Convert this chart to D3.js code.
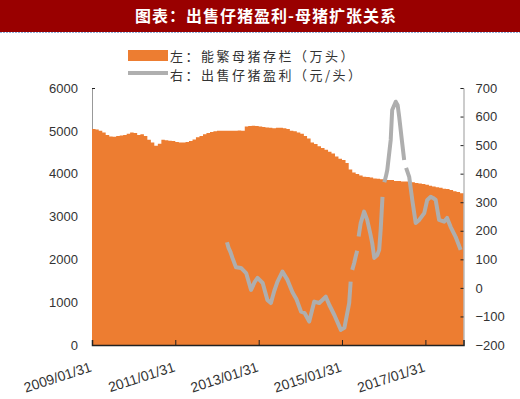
<!DOCTYPE html>
<html>
<head>
<meta charset="utf-8">
<script src="https://cdn.jsdelivr.net/npm/d3@7"></script>
<style>
  body { margin: 0; background: #fff; }
  svg { display: block; }
</style>
</head>
<body>
<svg id="chart" width="520" height="399"></svg>
<script>
// chart texts
var titleText = '图表：出售仔猪盈利-母猪扩张关系';
var legendLeft = '左：能繁母猪存栏（万头）';
var legendRight = '右：出售仔猪盈利（元/头）';

// monthly categories: first month and count
var firstMonth = '2009-01';
var monthCount = 107;

// left series: sow inventory (10k head), one value per month from 2009/01
var sowValues = [
  5040, 5030, 5000, 4960, 4900, 4870, 4860, 4880, 4890, 4900, 4930, 4960,
  4950, 4900, 4920, 4880, 4790, 4730, 4650, 4700, 4790, 4780, 4770, 4760,
  4740, 4730, 4730, 4740, 4760, 4800, 4850, 4880, 4920, 4950, 4970, 4990,
  5000, 5000, 5000, 5000, 5000, 5000, 5010, 5000, 5100, 5110, 5120, 5110,
  5100, 5090, 5080, 5070, 5060, 5070, 5070, 5060, 5040, 5000, 4990, 4960,
  4930, 4880, 4820, 4730, 4690, 4640, 4600, 4560, 4510, 4470, 4400, 4350,
  4320, 4250, 4100, 4030, 3990, 3960, 3930, 3920, 3910, 3890, 3880, 3870,
  3860, 3850, 3850, 3830, 3830, 3820, 3820, 3810, 3800, 3780, 3770, 3760,
  3740, 3720, 3700, 3680, 3670, 3650, 3640, 3620, 3590, 3570, 3540
];

// right series: piglet profit (yuan/head); null = missing week
var profitDates = [
  '2012-03-16', '2012-03-22', '2012-03-29', '2012-04-12', '2012-04-29', '2012-05-16',
  '2012-06-16', '2012-07-30', '2012-09-13', '2012-10-26', '2012-11-26', '2012-12-22',
  '2013-02-05', '2013-03-18', '2013-04-18', '2013-05-18', '2013-06-14', '2013-07-28',
  '2013-09-10', '2013-10-24', '2013-11-28', '2014-01-07', '2014-02-07', '2014-03-20',
  '2014-05-03', '2014-06-16', '2014-08-12', '2014-09-12', '2014-10-26', '2014-12-22',
  '2015-01-22', '2015-03-05', '2015-03-18', '2015-03-25', '2015-04-01', '2015-04-18',
  '2015-05-01', '2015-05-14', '2015-05-20', '2015-05-27', '2015-06-14', '2015-07-14',
  '2015-08-10', '2015-09-06', '2015-09-23', '2015-10-11', '2015-11-06', '2015-11-23',
  '2015-12-06', '2015-12-22', '2015-12-30', '2016-01-07', '2016-01-20', '2016-02-02',
  '2016-03-03', '2016-03-16', '2016-04-16', '2016-05-03', '2016-05-16', '2016-06-08',
  '2016-06-29', '2016-07-07', '2016-07-16', '2016-08-12', '2016-09-08', '2016-10-08',
  '2016-11-08', '2016-12-22', '2017-01-17', '2017-02-17', '2017-03-09', '2017-04-01',
  '2017-05-01', '2017-06-14', '2017-07-10', '2017-08-10', '2017-09-23', '2017-11-06'
];
var profitValues = [
  178, null, 160, 140, 125, 105,
  72, 70, 52, -7, 20, 35,
  17, -42, -53, -10, 21, 57,
  28, -15, -40, -83, -88, -118,
  -48, -53, -31, -60, -95, -147,
  -140, -53, 22, null, 63, 87,
  110, 130, null, 180, 227, 267,
  238, 190, 157, 105, 115, 133,
  203, 319, null, 370, 389, 413,
  518, 623, 652, 640, 600, 520,
  448, null, 420, 389, 308, 227,
  238, 262, 308, 319, 315, 308,
  238, 232, 245, 214, 179, 133
];

// axis ticks
var leftTicks = [0, 1000, 2000, 3000, 4000, 5000, 6000];
var rightTicks = [-200, -100, 0, 100, 200, 300, 400, 500, 600, 700];
var xTickDates = ['2009-01-01', '2011-01-01', '2013-01-01', '2015-01-01', '2017-01-01'];

var svg = d3.select('#chart');
var plot = { left: 92, right: 463.5, top: 88, bottom: 345 };

var parseDay = d3.timeParse('%Y-%m-%d');
var parseMonth = d3.timeParse('%Y-%m');
var start = parseMonth(firstMonth);
var months = d3.range(monthCount).map(function (i) { return d3.timeMonth.offset(start, i); });

var x = d3.scaleTime()
  .domain([start, d3.timeMonth.offset(start, monthCount)])
  .range([plot.left, plot.right]);
var yLeft = d3.scaleLinear().domain([0, 6000]).range([plot.bottom, plot.top]);
var yRight = d3.scaleLinear().domain([-200, 700]).range([plot.bottom, plot.top]);

// title bar
svg.append('rect').attr('x', 0).attr('y', 0).attr('width', 520).attr('height', 32).attr('fill', '#990000');
svg.append('line').attr('x1', 0).attr('x2', 520).attr('y1', 32.5).attr('y2', 32.5)
  .attr('stroke', '#8fb0dc').attr('stroke-width', 1).attr('stroke-dasharray', '2,1');
svg.append('text').attr('x', 266).attr('y', 22).attr('text-anchor', 'middle')
  .attr('fill', '#fff').attr('font-family', '"Noto Sans CJK SC"').attr('font-weight', 'bold')
  .attr('font-size', 16).attr('letter-spacing', 1).text(titleText);

// legend
var legend = svg.append('g').attr('font-family', '"Noto Sans CJK SC"').attr('font-size', 13)
  .attr('letter-spacing', 2.5).attr('fill', '#333');
legend.append('rect').attr('x', 128).attr('y', 50).attr('width', 40).attr('height', 11).attr('fill', '#ED7D31');
legend.append('text').attr('x', 170).attr('y', 60.5).text(legendLeft);
legend.append('line').attr('x1', 128).attr('x2', 168).attr('y1', 73).attr('y2', 73)
  .attr('stroke', '#AFAFAF').attr('stroke-width', 4);
legend.append('text').attr('x', 170).attr('y', 79.5).text(legendRight);

// axes (left first so the area covers its inner ticks)
var axisFont = 'Liberation Sans, Arial, sans-serif';
var leftAxis = svg.append('g').attr('transform', 'translate(' + plot.left + ',0)')
  .call(d3.axisLeft(yLeft).tickValues(leftTicks).tickSize(-3).tickPadding(14).tickFormat(d3.format('d')));

// sow bars, one step per month
var sowPoints = months.map(function (d, i) { return { date: d, value: sowValues[i] }; });
sowPoints.push({ date: d3.timeMonth.offset(start, monthCount), value: sowValues[monthCount - 1] });
var area = d3.area()
  .curve(d3.curveStepAfter)
  .x(function (d) { return x(d.date); })
  .y0(plot.bottom)
  .y1(function (d) { return yLeft(d.value); });
svg.append('path').datum(sowPoints)
  .attr('d', area)
  .attr('fill', '#ED7D31');

// profit line
var profit = profitDates.map(function (d, i) { return { date: parseDay(d), value: profitValues[i] }; });
var line = d3.line()
  .defined(function (d) { return d.value != null; })
  .x(function (d) { return x(d.date); })
  .y(function (d) { return yRight(d.value); });
svg.append('path').datum(profit)
  .attr('d', line)
  .attr('fill', 'none')
  .attr('stroke', '#AEAEAE')
  .attr('stroke-width', 4)
  .attr('stroke-linejoin', 'round');

var rightAxis = svg.append('g').attr('transform', 'translate(' + plot.right + ',0)')
  .call(d3.axisRight(yRight).tickValues(rightTicks).tickSize(-3).tickPadding(12));
var bottomAxis = svg.append('g').attr('transform', 'translate(0,' + plot.bottom + ')')
  .call(d3.axisBottom(x).tickValues(xTickDates.map(parseDay)).tickSize(-5)
    .tickFormat(function (d) {
      return d3.timeFormat('%Y/%m/%d')(d3.timeDay.offset(d3.timeMonth.offset(d, 1), -1));
    }));

[leftAxis, rightAxis, bottomAxis].forEach(function (g) {
  g.selectAll('text').attr('font-family', axisFont).attr('font-size', 13).attr('fill', '#333');
  g.selectAll('.tick line').attr('stroke', '#222');
});
leftAxis.select('.domain').attr('stroke', '#999');
rightAxis.select('.domain').attr('stroke', '#999');
bottomAxis.select('.domain').attr('stroke', '#222').attr('stroke-width', 1.5);
bottomAxis.selectAll('text')
  .attr('font-size', 14)
  .attr('text-anchor', 'end')
  .attr('x', 0)
  .attr('y', 0)
  .attr('dy', 0)
  .attr('transform', 'translate(0,26) rotate(-18)');
</script>
</body>
</html>
